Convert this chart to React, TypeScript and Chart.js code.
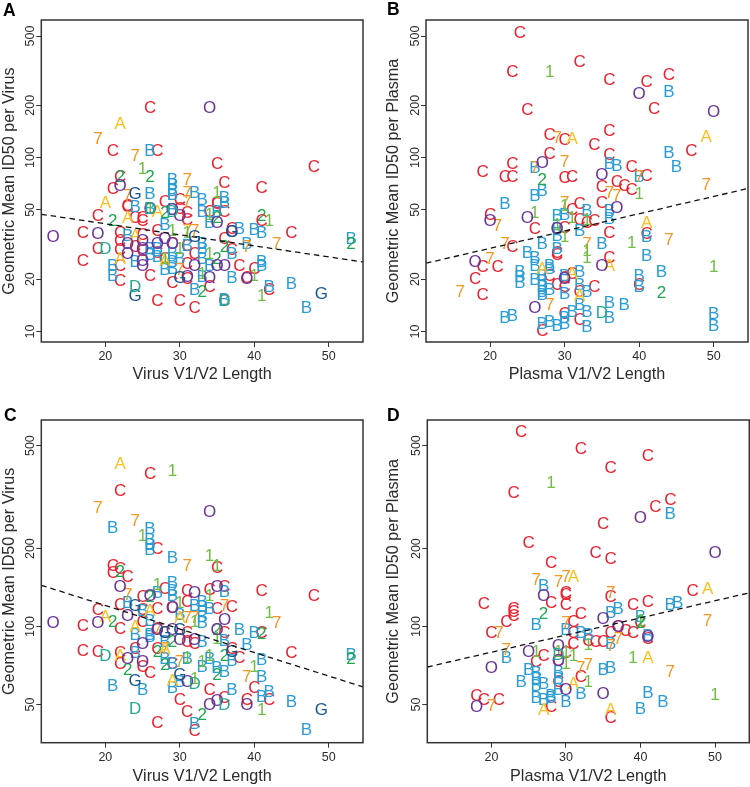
import React, { useEffect, useRef } from "react";
import { Chart, registerables } from "chart.js";

Chart.register(...registerables);

type P = [number, number];

const subtypes = ["C", "B", "7", "A", "1", "2", "O", "G", "D"];
const colors = ["#e8222f", "#2a9dd6", "#f6961f", "#fcc01e", "#6fbe44", "#1fa650", "#6a3499", "#17568f", "#27ab8e"];
const xTicks = [20, 30, 40, 50];
const yTicksTop = [10, 20, 50, 100, 200, 500];
const yTicksBottom = [50, 100, 200, 500];

// Panel A
const aC: P[] = [[26,192],[21,109],[27,109],[35,92],[48,88],[22,78],[36,72],[21,66],[41,67],[28,56],[30,57],[23,52],[23,53],[35,55],[35,54],[30,51],[31,48],[31,44],[34,49],[36,49],[19,46],[24,45],[25,45],[25,43],[41,43],[37,39],[45,37],[17,37],[22,37],[25,36],[27,38],[36,34],[19,30],[22,33],[22,29.5],[24,30.6],[25,29],[27,28.4],[29,32],[37,29.4],[17,25.5],[22,24],[26,21],[28,26],[31,31],[31,24.5],[32,28],[38,24],[40,23],[39,20.4],[31,20],[29,19],[22,19.5],[34,18],[42,17.3],[27,15],[30,15],[32,13.7],[36,15]];
const aB: P[] = [[26,110],[29,74],[29,70],[29,64],[29,61],[26,62],[32,63],[36,59],[36,55],[33,57],[24,52],[26,51],[29,50],[33,49],[35,49],[34,42],[28,41],[38,39],[40,38.5],[41,37],[23,35.6],[53,34],[39,32],[33,32],[33,30],[31,31],[37,28],[26,30],[26,27.5],[21,24],[21,21],[24,25],[27,30],[27,27],[28,22.5],[29,28],[29,25],[29,23],[30,26],[33,26],[34,24],[41,25],[41,24],[37,20.3],[33,20.5],[32,17.3],[42,18],[45,18.7],[47,13.7],[36,15.2]];
const a7: P[] = [[19,128],[24,103],[31,74],[23,60],[31,63],[31,56],[31,38],[32,38],[43,32],[39,30.5],[30,22.5]];
const aA: P[] = [[22,157],[20,55],[27,49],[23,45],[24,35.6],[22,26],[28,25.5]];
const a1: P[] = [[25,86],[35,63],[26,51],[34,47],[42,43],[29,38],[31,37],[30,30],[28,26],[34,28],[40,21],[33,21.5],[41,16]];
const a2: P[] = [[22,78],[26,78],[28,48],[35,45],[41,46],[21,43],[53,32],[36,30.8],[35,26],[33,17]];
const aO: P[] = [[34,194],[22,69],[26,51],[29,50],[30,46],[35,42],[37,37.6],[19,36.6],[13,35],[23,32],[23,28],[25,33],[25,30],[27,32],[28,34],[29,32],[25,25.5],[25,24],[32,24],[35,24],[36,24],[39,20],[34,20.3],[31,20.5]];
const aG: P[] = [[24,62],[37,37.6],[32,35],[30,20.3],[24,16],[49,16.5]];
const aD: P[] = [[26,51],[29,49],[20,30],[24,18],[36,15]];

// Panel B
const bC: P[] = [[24,525],[23,311],[32,355],[36,281],[41,273],[44,298],[42,191],[25,189],[28,136],[30,126],[36,143],[34,118],[47,110],[28,105],[36,104],[23,92],[39,88],[19,83],[22,78],[23,77],[30,76],[31,77],[41,79],[37,73],[35,68],[38,69],[39,65],[35,55],[32,54],[31,50],[32,44],[33,42.3],[34,43],[20,47],[26,39],[30,39.5],[36,37],[41,36.5],[23,30.8],[29,28.4],[29,27.5],[36,26.5],[19,23.5],[21,23.5],[28,21],[31,21.5],[40,18.5],[18,20],[30,20.4],[29,18.5],[30,18],[34,18],[32,17],[19,16.2],[30,12.7],[32,11.6],[27,10.1]];
const bB: P[] = [[44,238],[44,107],[26,87],[36,92],[37,90],[45,88],[40,77],[27,64],[26,60],[22,54],[33,49.3],[36,49.3],[36,44.2],[29,46],[30,47],[29,39],[32,38],[41,35],[29,35.5],[27,32],[35,32],[29,30],[25,28.4],[26,26.5],[26,24],[41,27.2],[24,22],[24,20.6],[24,19],[28,24],[28,23],[27,21],[27,19.5],[32,22],[43,22],[40,21],[40,18],[30,20.8],[26,19.8],[27,18],[27,17],[27,16.2],[28,17.3],[30,16.4],[32,18.6],[33,16.8],[36,14.7],[36,12],[32,14.2],[33,13],[38,14.2],[31,13],[30,12],[22,12],[23,12.3],[28,11.4],[27,11.1],[29,10.8],[30,11],[33,10.7],[50,12.6],[50,10.8]];
const b7: P[] = [[29,130],[30,94],[26,87],[40,77],[36,63],[37,60],[49,70],[30,55],[21,40.5],[22,32],[33,32],[44,33.5],[20,26],[16,17],[28,14.2]];
const bA: P[] = [[31,129],[49,131],[41,42],[36,23.7],[27,23],[31,21.5],[32,16]];
const b1: P[] = [[28,311],[40,62],[30,52.5],[26,48.3],[31,45],[33,44],[29,41],[30,35],[39,32.5],[33,29],[33,26.5],[50,23.5]];
const b2: P[] = [[27,74],[43,16.6]];
const bO: P[] = [[40,234],[50,184],[27,93],[35,80],[37,51.5],[25,45],[20,43.5],[29,39],[18,25.3],[35,23.7],[30,20],[26,13.6]];
const bG: P[] = [];
const bD: P[] = [[35,12.8]];

// Panel C
const cC: P[] = [[26,388],[22,335],[27,199],[35,169],[21,172],[21,162],[22,167],[23,155],[28,140],[31,138],[34,139],[36,142],[41,137],[48,132],[25,130],[22,121],[25,116],[27,117],[19,116],[29,118],[31,125],[35,117],[37,119],[17,100.6],[22,98],[25,104],[27,98],[28,95],[41,95],[36,95],[31,95],[31,87],[32,86],[24,82],[27,82],[17,80.5],[19,80],[22,79],[22,72],[25,70],[26,66],[29,72],[37,82],[38,76],[45,79],[40,58],[42,52],[39,52],[34,57],[36,53],[30,52],[31,47],[27,42.5],[32,39.5]];
const cB: P[] = [[21,240],[26,238],[26,217],[26,207],[26,198],[29,185],[29,147],[29,138],[29,132],[36,136],[27,135],[23,123],[25,115],[32,120],[33,125],[33,119],[34,117],[24,93],[26,105],[26,93],[26,91],[30,111],[33,109],[33,103],[38,97.3],[40,94.5],[36,88],[28,87],[33,87],[24,79],[28,75],[29,72],[31,75],[33,70],[34,75],[35,69],[36,67],[37,74],[39,85],[41,74.5],[41,64],[21,59],[25,57],[29,58],[30,61],[37,57],[42,56],[41,53.5],[45,51],[47,40],[32,42],[53,78]];
const c7: P[] = [[19,288],[24,256],[31,172],[36,120],[23,133],[31,108],[32,108],[43,103],[27,97],[28,82],[30,73],[39,64]];
const cA: P[] = [[22,425],[20,109],[26,115],[24,100],[30,108],[28,82],[22,77],[29,62]];
const c1: P[] = [[29,399],[25,225],[34,187],[35,172],[27,145],[34,132],[30,123],[42,113],[32,104],[35,90],[31,76],[33,73],[34,77],[32,63],[40,70],[41,47.5]];
const c2: P[] = [[22,163],[26,130],[21,104],[35,97],[41,94],[29,87],[27,80],[28,71],[36,77],[23,68],[35,65],[33,45.5],[53,75]];
const cO: P[] = [[34,278],[22,143],[35,143],[32,135],[26,132],[29,118],[23,110],[36,106],[13,103],[19,103],[27,97],[35,97],[29,97],[30,89],[32,89],[25,86],[23,75],[25,73],[31,61],[34,50],[35,51.5],[39,50]];
const cG: P[] = [[24,120],[30,97],[28,95],[37,80],[24,62],[30,65],[49,47.5]];
const cD: P[] = [[20,77],[32,60],[36,50],[24,48]];

// Panel D
const dC: P[] = [[24,566],[32,487],[36,411],[41,457],[23,329],[44,310],[42,290],[35,250],[25,210],[34,192],[36,182],[28,176],[30,135],[47,137],[28,123],[30,133],[30,121],[36,130],[39,121],[41,125],[19,122],[23,117],[23,114],[23,110],[22,104],[20,95],[32,112],[31,104],[31,95],[37,100],[36,95],[38,96],[39,95],[40,103],[41,90],[31,86],[33,88],[34,87],[35,87],[27,77],[26,73],[29,74],[30,79],[32,64],[29,61],[18,54],[19,52],[21,52],[28,49],[36,44.5]];
const dB: P[] = [[44,273],[27,144],[37,117],[36,113],[44,121],[45,123],[40,109],[26,102],[30,97],[32,95],[33,93],[41,92],[36,86],[22,76],[25,68],[26,66],[26,63],[26,59],[24,61],[27,60],[29,67],[29,63],[29,57],[35,68],[36,69.5],[32,55],[41,55.5],[43,51],[30,51],[26,53],[27,52],[28,53],[28,54],[40,48]];
const d7: P[] = [[26,152],[29,149],[30,156],[36,135],[21,95],[30,103],[49,105],[37,90],[36,84],[22,81],[44,67],[32,69],[33,71],[20,49.5]];
const dA: P[] = [[31,156],[49,140],[41,76],[31,60],[27,47.5],[36,47.5]];
const d1: P[] = [[28,358],[40,105],[33,85],[26,80],[29,80],[30,80],[31,77],[30,72],[39,76],[33,61],[50,54.5]];
const d2: P[] = [[27,112],[40,103]];
const dO: P[] = [[40,263],[50,192],[27,131],[35,107],[37,100],[41,91],[29,84],[25,80],[29,74],[20,69],[30,57],[35,55],[18,49]];
const dG: P[] = [];
const dD: P[] = [[29,78]];

// Dashed regression lines
const aLine: P[] = [[11.4,47.2],[54.6,25.1]];
const bLine: P[] = [[11.4,24.7],[54.6,66.4]];
const cLine: P[] = [[11.4,144.4],[54.6,58.5]];
const dLine: P[] = [[11.4,69.8],[54.6,135]];

const FONT = "'Liberation Sans', Arial, sans-serif";
const INK = "#2b2b2b";

const lettersPlugin = {
  id: "letters",
  beforeDatasetsDraw(chart: any) {
    const ctx = chart.ctx;
    ctx.save();
    ctx.font = `17px ${FONT}`;
    ctx.textAlign = "center";
    ctx.textBaseline = "middle";
    chart.data.datasets.forEach((ds: any, i: number) => {
      if (!ds.letter) return;
      ctx.fillStyle = ds.letterColor;
      chart.getDatasetMeta(i).data.forEach((el: any) => {
        ctx.fillText(ds.letter, el.x, el.y + 0.5);
      });
    });
    ctx.restore();
  },
  afterDraw(chart: any) {
    const { ctx, chartArea: a } = chart;
    const o = chart.options.plugins.letters;
    ctx.save();
    ctx.strokeStyle = "#333";
    ctx.lineWidth = 1.5;
    ctx.strokeRect(a.left, a.top, a.right - a.left, a.bottom - a.top);
    ctx.fillStyle = "#000";
    ctx.font = `bold 17.5px ${FONT}`;
    ctx.textAlign = "left";
    ctx.textBaseline = "middle";
    ctx.fillText(o.tag, o.tagX, o.tagY);
    ctx.restore();
  },
};

type PanelDef = {
  tag: string; tagX: number; tagY: number;
  left: number; top: number; width: number; height: number;
  axisW: number; axisH: number; padTop: number; padRight: number;
  yMin: number; yMax: number; yTicks: number[];
  xTitle: string; yTitle: string; xTitleBottom: number;
  series: P[][]; line: P[];
};

const panels: PanelDef[] = [
  { tag: "A", tagX: 3, tagY: 11.5, left: 0, top: 0, width: 375, height: 393, axisW: 41.3, axisH: 51, padTop: 20, padRight: 12, yMin: 8.7, yMax: 618, yTicks: yTicksTop, xTitle: "Virus V1/V2 Length", yTitle: "Geometric Mean ID50 per Virus", xTitleBottom: 9, series: [aC, aB, a7, aA, a1, a2, aO, aG, aD], line: aLine },
  { tag: "B", tagX: 3, tagY: 10.5, left: 384, top: 0, width: 366, height: 393, axisW: 42, axisH: 51, padTop: 20, padRight: 2, yMin: 8.7, yMax: 618, yTicks: yTicksTop, xTitle: "Plasma V1/V2 Length", yTitle: "Geometric Mean ID50 per Plasma", xTitleBottom: 9, series: [bC, bB, b7, bA, b1, b2, bO, bG, bD], line: bLine },
  { tag: "C", tagX: 4, tagY: 22.5, left: 0, top: 394, width: 375, height: 393, axisW: 41.3, axisH: 44.3, padTop: 26, padRight: 12, yMin: 35.6, yMax: 628, yTicks: yTicksBottom, xTitle: "Virus V1/V2 Length", yTitle: "Geometric Mean ID50 per Virus", xTitleBottom: 0.5, series: [cC, cB, c7, cA, c1, c2, cO, cG, cD], line: cLine },
  { tag: "D", tagX: 3, tagY: 22.5, left: 384, top: 394, width: 366, height: 393, axisW: 43.3, axisH: 44.3, padTop: 26, padRight: 0.7, yMin: 35.6, yMax: 628, yTicks: yTicksBottom, xTitle: "Plasma V1/V2 Length", yTitle: "Geometric Mean ID50 per Plasma", xTitleBottom: 0.5, series: [dC, dB, d7, dA, d1, d2, dO, dG, dD], line: dLine },
];

function Panel({ def }: { def: PanelDef }) {
  const ref = useRef<HTMLCanvasElement>(null);
  useEffect(() => {
    const datasets: any[] = def.series.map((pts, i) => ({
      label: subtypes[i],
      letter: subtypes[i],
      letterColor: colors[i],
      data: pts.map(([x, y]) => ({ x, y })),
      pointRadius: 0,
      showLine: false,
    }));
    datasets.push({
      label: "fit",
      data: def.line.map(([x, y]) => ({ x, y })),
      showLine: true,
      pointRadius: 0,
      borderColor: "#111",
      borderWidth: 1.3,
      borderDash: [5.5, 4],
    });
    const chart = new Chart(ref.current!, {
      type: "scatter",
      data: { datasets },
      plugins: [lettersPlugin],
      options: {
        animation: false,
        responsive: false,
        layout: { padding: { top: def.padTop, right: def.padRight, left: 0, bottom: 0 } },
        plugins: {
          legend: { display: false },
          tooltip: { enabled: false },
          letters: { tag: def.tag, tagX: def.tagX, tagY: def.tagY },
        } as any,
        scales: {
          x: {
            type: "linear",
            min: 11.4,
            max: 54.6,
            afterBuildTicks: (s: any) => { s.ticks = xTicks.map((value) => ({ value })); },
            afterFit: (s: any) => { s.height = def.axisH; },
            grid: { drawOnChartArea: false, drawTicks: true, tickLength: 5, color: "#333" },
            border: { display: false },
            ticks: { color: INK, font: { family: FONT, size: 12.5 }, padding: 2, maxRotation: 0, callback: (v: any) => String(v) },
            title: { display: true, text: def.xTitle, color: INK, font: { family: FONT, size: 16.2 }, padding: { top: 0, bottom: def.xTitleBottom } },
          },
          y: {
            type: "logarithmic",
            min: def.yMin,
            max: def.yMax,
            afterBuildTicks: (s: any) => { s.ticks = def.yTicks.map((value) => ({ value })); },
            afterFit: (s: any) => { s.width = def.axisW; },
            grid: { drawOnChartArea: false, drawTicks: true, tickLength: 5, color: "#333" },
            border: { display: false },
            ticks: { color: INK, font: { family: FONT, size: 12.5 }, padding: -5, minRotation: 90, maxRotation: 90, crossAlign: "center", callback: (v: any) => String(v) },
            title: { display: true, text: def.yTitle, color: INK, font: { family: FONT, size: 16.2 }, padding: { top: 0, bottom: 0 } },
          },
        },
      } as any,
    });
    return () => chart.destroy();
  }, []);
  return (
    <canvas
      ref={ref}
      width={def.width}
      height={def.height}
      style={{ position: "absolute", left: def.left, top: def.top, width: def.width, height: def.height }}
    />
  );
}

export default function App() {
  useEffect(() => {
    document.body.style.margin = "0";
  }, []);
  return (
    <div style={{ position: "relative", width: 750, height: 787, overflow: "hidden", background: "#fff" }}>
      {panels.map((p) => (
        <Panel key={p.tag} def={p} />
      ))}
    </div>
  );
}
